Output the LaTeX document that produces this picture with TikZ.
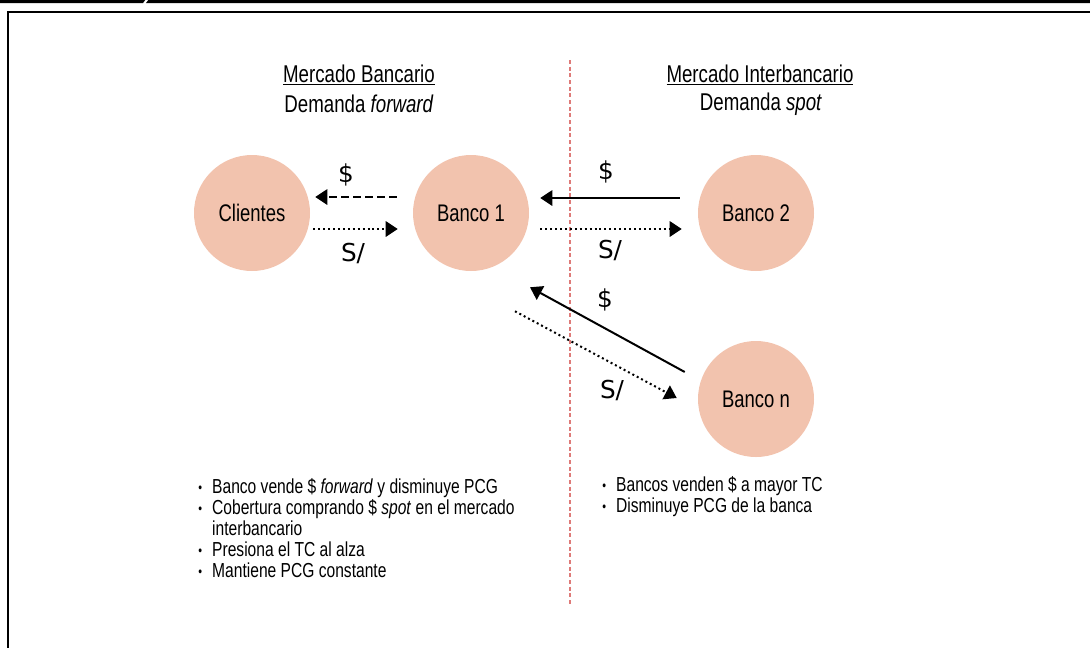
\documentclass[tikz,border=0pt]{standalone}
\usepackage{fontspec}
\setmainfont[FakeStretch=0.77]{Liberation Sans}
\newfontfamily\curfont{DejaVu Sans}
\usetikzlibrary{arrows.meta}
\definecolor{bankfill}{HTML}{F2C3AE}
\definecolor{divline}{HTML}{DE7A78}
\newcommand{\bul}{\raisebox{0.1ex}{\fontsize{10.5}{10}\selectfont•}\hspace{0.5em}}
\begin{document}
\begin{tikzpicture}[
		x=0.75pt, y=-0.75pt,
		bank/.style={circle, fill=bankfill, minimum size=87pt, inner sep=0pt, font=\fontsize{18}{20}\selectfont},
		head/.style={font=\fontsize{18.2}{21}\selectfont},
		cur/.style={font=\curfont\fontsize{18.5}{20}\selectfont},
		flow/.style={line width=1.5pt, -{Triangle[length=9pt,width=11.5pt]}},
		dashflow/.style={flow, dash pattern=on 6pt off 3pt},
		dotflow/.style={flow, dash pattern=on 1.5pt off 2.2pt},
		notes/.style={align=left, anchor=north west, inner sep=0pt, font=\fontsize{15.2}{15.75}\selectfont}
	]
	\useasboundingbox (0,0) rectangle (1090,647);
	\fill (0,-1) -- (146,-1) -- (143,3) -- (0,3) -- cycle;
	\fill (149,-1) -- (1095,-1) -- (1095,3) -- (146,3) -- cycle;
	\draw[line width=1.5pt] (1095,12) -- (8,12) -- (8,652);
	\draw[divline, line width=0.9pt, dash pattern=on 3pt off 2pt] (570,60) -- (570,605);

	\node[head] (hbanc) at (359,75) {\underline{Mercado Bancario}};
	\node[head] (hbancd) at (359,104) {Demanda \textit{forward}};
	\node[head] (hinter) at (760,75) {\underline{Mercado Interbancario}};
	\node[head] (hinterd) at (761,104) {Demanda \textit{spot}};

	\node[bank] (clientes) at (252,213) {Clientes};
	\node[bank] (banco1) at (471,213) {Banco 1};
	\node[bank] (banco2) at (756,213) {Banco 2};
	\node[bank] (bancon) at (756,399) {Banco n};

	\draw[dashflow] ([shift={(-16,-16)}]banco1.west) -- ([shift={(5,-16)}]clientes.east);
	\draw[dotflow] ([shift={(3,16)}]clientes.east) -- ([shift={(-15,16)}]banco1.west);
	\draw[flow] ([shift={(-18,-15)}]banco2.west) -- ([shift={(11,-15)}]banco1.east);
	\draw[dotflow] ([shift={(11,16)}]banco1.east) -- ([shift={(-16,16)}]banco2.west);
	\draw[flow] ([shift={(-13,-27)}]bancon.west) -- ([shift={(59,16)}]banco1.south);
	\draw[dotflow] ([shift={(44,40)}]banco1.south) -- ([shift={(-21,-1)}]bancon.west);

	\node[cur] (dol1) at (346,175) {\$};
	\node[cur] (sol1) at (353,253) {S/};
	\node[cur] (dol2) at (606,172) {\$};
	\node[cur] (sol2) at (610,250) {S/};
	\node[cur] (dol3) at (605,300) {\$};
	\node[cur] (sol3) at (612,390) {S/};

	\node[notes] (leftnotes) at (198,478) {\bul Banco vende \$ \textit{forward} y disminuye PCG\\
		\bul Cobertura comprando \$ \textit{spot} en el mercado\\
		\phantom{\bul}interbancario\\
		\bul Presiona el TC al alza\\
		\bul Mantiene PCG constante};
	\node[notes] (rightnotes) at (602,476) {\bul Bancos venden \$ a mayor TC\\
		\bul Disminuye PCG de la banca};
\end{tikzpicture}
\end{document}
